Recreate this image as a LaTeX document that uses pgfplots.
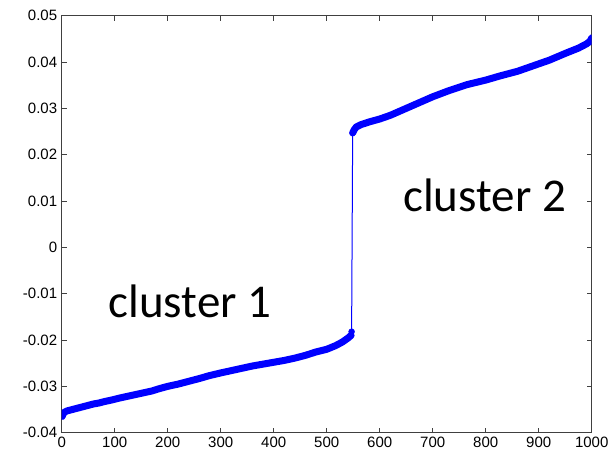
\documentclass[border=0pt]{standalone}
\usepackage{fontspec}
\setmainfont{Liberation Sans}
\newfontfamily\calibri{Carlito}
\usepackage{pgfplots}
\pgfplotsset{compat=1.18}
\pgfplotstableread{
x y
1 -0.0365
2 -0.0361
5 -0.0356
10 -0.0353
20 -0.0350
30 -0.0347
40 -0.0344
50 -0.0341
60 -0.0338
70 -0.0336
80 -0.0333
96 -0.0329
110 -0.0325
130 -0.0320
150 -0.0315
170 -0.0310
184 -0.0305
200 -0.0300
220 -0.0295
240 -0.0289
260 -0.0283
278 -0.0277
300 -0.0271
320 -0.0266
340 -0.0261
360 -0.0256
380 -0.0252
400 -0.0248
420 -0.0244
440 -0.0239
460 -0.0233
479 -0.0226
500 -0.0220
517 -0.0212
530 -0.0204
541 -0.0195
546 -0.0190
}\clusterone
\pgfplotstableread{
x y
546 -0.0190
547 -0.0182
548 0.0031
549 0.0247
}\jump
\pgfplotstableread{
x y
549 0.0247
552 0.0254
556 0.0260
565 0.0265
581 0.0271
600 0.0277
620 0.0285
640 0.0295
660 0.0305
680 0.0315
700 0.0325
730 0.0338
764 0.0351
800 0.0361
827 0.0370
860 0.0380
890 0.0392
920 0.0404
953 0.0420
975 0.0430
990 0.0439
997 0.0445
1000 0.0452
}\clustertwo
\begin{document}
\begin{tikzpicture}[x=1pt,y=1pt]
\path[use as bounding box] (-61.7,-25) rectangle (551.3,432.7);
\begin{axis}[at={(0,0)}, anchor=south west, scale only axis,
  width=530pt, height=417pt,
  xmin=0, xmax=1000, ymin=-0.04, ymax=0.05,
  scaled x ticks=false, scaled y ticks=false,
  xtick={0,100,200,300,400,500,600,700,800,900,1000},
  xticklabels={0,100,200,300,400,500,600,700,800,900,1000},
  ytick={-0.04,-0.03,-0.02,-0.01,0,0.01,0.02,0.03,0.04,0.05},
  yticklabels={-0.04,-0.03,-0.02,-0.01,0,0.01,0.02,0.03,0.04,0.05},
  tick align=inside, major tick length=5pt,
  ticklabel style={font=\fontsize{15}{15}\selectfont},
  /pgf/number format/assume math mode=true,
  axis line style={black!75, line width=0.8pt},
  tick style={black!75, line width=0.8pt},
  yticklabel style={xshift=-1pt},
  xticklabel style={yshift=-1pt},
]
\addplot[blue, line width=7pt, line cap=round, line join=round] table[x=x,y=y] {\clusterone};
\addplot[blue, line width=1pt] table[x=x,y=y] {\jump};
\addplot[blue, line width=7pt, line cap=round, line join=round] table[x=x,y=y] {\clustertwo};
\addplot[blue, only marks, mark=*, mark size=3pt] coordinates {(547,-0.0182) (549,0.0247)};
\node[font=\calibri\fontsize{47}{47}\selectfont, inner sep=0pt] at (axis cs:242,-0.01175) {cluster 1};
\node[font=\calibri\fontsize{47}{47}\selectfont, inner sep=0pt] at (axis cs:798,0.0113) {cluster 2};
\end{axis}
\end{tikzpicture}
\end{document}
